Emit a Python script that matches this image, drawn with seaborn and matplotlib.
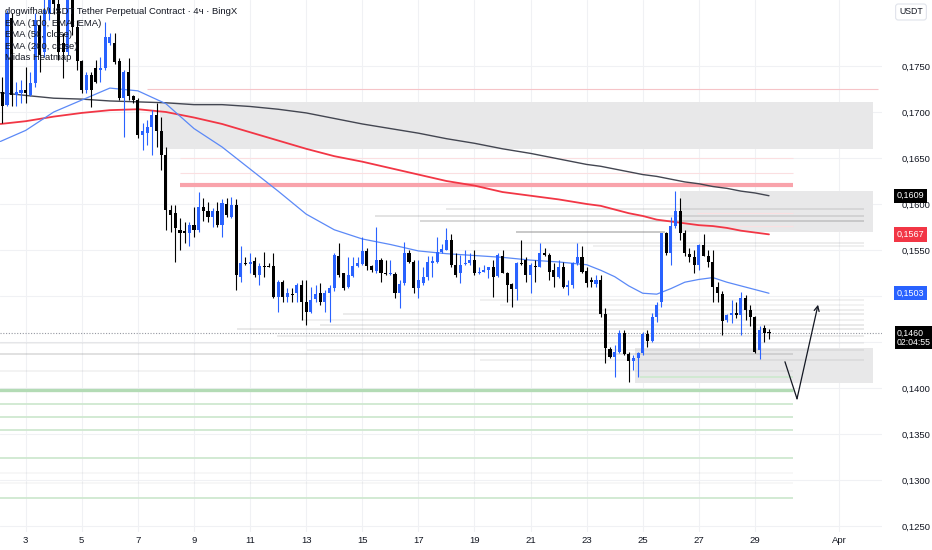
import numpy as np
import pandas as pd
import matplotlib
matplotlib.use("Agg")
import matplotlib.pyplot as plt
import matplotlib.transforms as mtransforms
import seaborn as sns

# ---------------- data (prices in 1e-4 USDT) ----------------
candle_start = "2025-03-02 04:00"
open_e4 = [1722, 1708, 1802, 1719, 1721, 1724, 1719, 1732, 1795, 1765,
           1806, 1833, 1817, 1775, 1765, 1827, 1792, 1755, 1724, 1740,
           1748, 1746, 1748, 1775, 1775, 1755, 1715, 1743, 1717, 1713,
           1675, 1677, 1684, 1697, 1679, 1653, 1594, 1590, 1572, 1571,
           1569, 1577, 1572, 1597, 1592, 1586, 1592, 1577, 1600, 1586,
           1599, 1521, 1536, 1535, 1538, 1523, 1533, 1533, 1533, 1499,
           1515, 1499, 1502, 1503, 1512, 1493, 1483, 1497, 1503, 1494,
           1503, 1509, 1543, 1525, 1510, 1522, 1533, 1535, 1549, 1533,
           1527, 1539, 1525, 1524, 1524, 1503, 1514, 1547, 1537, 1509,
           1514, 1521, 1536, 1537, 1548, 1550, 1561, 1534, 1525, 1535,
           1536, 1539, 1525, 1526, 1528, 1531, 1522, 1543, 1525, 1513,
           1508, 1536, 1539, 1523, 1533, 1532, 1547, 1545, 1528, 1521,
           1532, 1510, 1512, 1536, 1542, 1527, 1517, 1513, 1517, 1480,
           1442, 1434, 1439, 1460, 1437, 1429, 1433, 1438, 1459, 1451,
           1477, 1493, 1568, 1547, 1576, 1592, 1568, 1546, 1542, 1534,
           1555, 1544, 1537, 1510, 1502, 1474, 1479, 1482, 1479, 1498,
           1485, 1477, 1441, 1465, 1461]
high_e4 = [1738, 1811, 1808, 1733, 1735, 1749, 1743, 1808, 1805, 1827,
           1844, 1849, 1838, 1786, 1844, 1838, 1800, 1757, 1743, 1744,
           1757, 1760, 1798, 1786, 1786, 1759, 1746, 1759, 1719, 1715,
           1688, 1691, 1702, 1710, 1695, 1662, 1599, 1599, 1585, 1580,
           1580, 1597, 1613, 1607, 1602, 1596, 1602, 1605, 1607, 1608,
           1605, 1554, 1542, 1547, 1542, 1536, 1548, 1536, 1547, 1517,
           1517, 1509, 1509, 1514, 1517, 1517, 1510, 1512, 1514, 1507,
           1512, 1547, 1558, 1525, 1542, 1542, 1542, 1564, 1552, 1534,
           1575, 1541, 1539, 1539, 1526, 1517, 1559, 1550, 1539, 1539,
           1532, 1543, 1543, 1564, 1556, 1574, 1567, 1547, 1545, 1550,
           1547, 1550, 1532, 1534, 1532, 1539, 1547, 1550, 1526, 1514,
           1537, 1561, 1542, 1536, 1539, 1558, 1552, 1547, 1536, 1539,
           1537, 1517, 1537, 1558, 1554, 1531, 1521, 1523, 1523, 1487,
           1445, 1447, 1463, 1463, 1439, 1436, 1439, 1461, 1463, 1481,
           1494, 1569, 1570, 1586, 1614, 1607, 1572, 1552, 1550, 1556,
           1567, 1550, 1550, 1515, 1505, 1480, 1496, 1493, 1504, 1501,
           1490, 1478, 1467, 1468, 1464]
low_e4 = [1688, 1706, 1706, 1706, 1710, 1710, 1717, 1727, 1743, 1760,
          1800, 1806, 1756, 1737, 1762, 1784, 1746, 1721, 1721, 1705,
          1732, 1733, 1746, 1773, 1752, 1713, 1673, 1713, 1710, 1672,
          1659, 1664, 1653, 1662, 1637, 1572, 1570, 1537, 1550, 1558,
          1554, 1564, 1570, 1581, 1580, 1575, 1575, 1564, 1586, 1585,
          1507, 1515, 1534, 1525, 1521, 1512, 1521, 1531, 1498, 1483,
          1493, 1494, 1493, 1494, 1474, 1469, 1482, 1493, 1490, 1483,
          1472, 1505, 1521, 1507, 1509, 1521, 1532, 1534, 1528, 1526,
          1525, 1515, 1523, 1523, 1498, 1487, 1512, 1536, 1503, 1498,
          1512, 1517, 1521, 1536, 1547, 1550, 1532, 1521, 1514, 1534,
          1534, 1523, 1524, 1526, 1520, 1499, 1521, 1525, 1493, 1488,
          1496, 1534, 1515, 1503, 1515, 1531, 1543, 1517, 1510, 1520,
          1509, 1501, 1509, 1534, 1525, 1510, 1510, 1510, 1477, 1427,
          1433, 1412, 1438, 1436, 1406, 1420, 1412, 1436, 1445, 1450,
          1472, 1488, 1545, 1534, 1574, 1561, 1543, 1537, 1525, 1528,
          1543, 1532, 1494, 1493, 1458, 1472, 1471, 1476, 1458, 1474,
          1467, 1438, 1431, 1450, 1453]
close_e4 = [1706, 1808, 1719, 1722, 1724, 1721, 1732, 1800, 1762, 1811,
            1833, 1817, 1765, 1765, 1827, 1792, 1755, 1724, 1740, 1724,
            1733, 1748, 1782, 1782, 1754, 1715, 1743, 1717, 1713, 1675,
            1679, 1684, 1697, 1679, 1653, 1594, 1588, 1574, 1569, 1569,
            1577, 1572, 1597, 1592, 1586, 1592, 1577, 1601, 1588, 1599,
            1523, 1536, 1535, 1537, 1523, 1533, 1532, 1532, 1499, 1515,
            1499, 1503, 1501, 1512, 1493, 1483, 1496, 1502, 1494, 1503,
            1509, 1545, 1523, 1509, 1523, 1533, 1536, 1549, 1533, 1528,
            1539, 1525, 1524, 1525, 1503, 1513, 1547, 1537, 1509, 1517,
            1521, 1537, 1538, 1548, 1551, 1561, 1534, 1523, 1534, 1536,
            1539, 1525, 1526, 1528, 1531, 1521, 1545, 1525, 1512, 1508,
            1536, 1535, 1523, 1534, 1532, 1547, 1545, 1526, 1521, 1532,
            1510, 1512, 1536, 1542, 1526, 1514, 1515, 1517, 1480, 1444,
            1434, 1439, 1460, 1437, 1429, 1433, 1438, 1459, 1451, 1477,
            1490, 1568, 1547, 1576, 1592, 1569, 1547, 1542, 1534, 1555,
            1544, 1537, 1510, 1503, 1473, 1479, 1482, 1479, 1498, 1485,
            1477, 1439, 1463, 1460, 1460]

# EMA lines (day of March -> price e4)
ema_days = [2.1, 3, 4, 5, 6, 7, 8, 9, 10, 11, 12, 13, 14, 15, 16, 17, 18, 19, 20,
            21, 22, 23, 23.5, 24, 24.5, 25, 25.5, 26, 26.5, 27, 27.5, 28, 28.5, 29, 29.5]
ema50_e4 = [1668, 1680, 1700, 1713, 1726, 1723, 1709, 1682, 1662, 1638, 1614, 1589,
            1572, 1562, 1556, 1549, 1546, 1544, 1542, 1539, 1537, 1534,
            1528, 1521, 1511, 1503, 1502, 1508, 1515, 1518, 1520, 1515, 1511, 1507, 1503]
ema200_e4 = [1687, 1690, 1695, 1699, 1702, 1703, 1700, 1694, 1687, 1678, 1669, 1660,
             1652, 1646, 1639, 1632, 1625, 1620, 1613, 1609, 1605, 1600,
             1598, 1594, 1590, 1587, 1583, 1581, 1579, 1577, 1576, 1574, 1571, 1569, 1567]
ema100_e4 = [1721, 1718, 1715, 1714, 1712, 1711, 1710, 1708, 1708, 1706, 1703, 1699,
             1693, 1687, 1682, 1677, 1671, 1666, 1660, 1655, 1649, 1643,
             1641, 1638, 1635, 1632, 1630, 1627, 1624, 1622, 1619, 1617, 1614, 1612, 1609]

# supply / demand zones
zone_top = [0.1711, 0.1614, 0.1444]
zone_bottom = [0.1660, 0.1570, 0.1405]
zone_from = [7.79, 26.33, 24.72]
zone_to = [33.21, 33.21, 33.21]

# Midas heatmap levels
heat_price = [0.1595, 0.1587, 0.1581, 0.1570, 0.1558, 0.1554, 0.1496, 0.1490, 0.1485,
              0.1480, 0.1474, 0.1469, 0.1464, 0.1457, 0.1449, 0.1441, 0.1437, 0.1430,
              0.1419, 0.1308, 0.1297]
heat_from = [18.0, 15.45, 17.06, 20.49, 18.84, 23.23, 19.2, 19.9, 22.05,
             14.32, 12.8, 13.5, 10.54, 11.96, 2.0, 13.04, 2.0, 19.2,
             2.0, 2.0, 2.0]
heat_to = [32.9, 32.9, 32.9, 25.79, 32.9, 32.9, 32.9, 32.9, 32.9,
           32.9, 32.9, 32.9, 32.9, 32.9, 32.9, 32.9, 30.36, 32.9,
           30.36, 30.36, 30.36]
heat_weight = [0.22, 0.28, 0.40, 0.55, 0.18, 0.15, 0.15, 0.12, 0.18,
               0.20, 0.15, 0.22, 0.22, 0.20, 0.12, 0.15, 0.30, 0.15,
               0.12, 0.08, 0.08]

support_levels = [0.1398, 0.1412, 0.1383, 0.1369, 0.1354, 0.1324, 0.1280]
support_from = [2.0, 24.9, 2.0, 2.0, 2.0, 2.0, 2.0]
resist_levels = [0.1621, 0.1725, 0.1650, 0.1634, 0.1590, 0.1576]
resist_from = [8.51, 7.33, 8.51, 8.51, 26.93, 26.93]
resist_to = [30.36, 33.4, 30.36, 30.36, 30.36, 30.36]

day_ticks = [3, 5, 7, 9, 11, 13, 15, 17, 19, 21, 23, 25, 27, 29, 32]
day_labels = ["3", "5", "7", "9", "11", "13", "15", "17", "19", "21", "23", "25", "27", "29", "Apr"]
price_ticks = [0.1250, 0.1300, 0.1350, 0.1400, 0.1450, 0.1500, 0.1550, 0.1600, 0.1650, 0.1700, 0.1750]
hidden_price_ticks = [0.1450, 0.1500]   # covered by the price tags in the original

legend_lines = ["dogwifhat/USDT Tether Perpetual Contract · 4ч · BingX",
                "EMA (100, EMA: EMA)", "EMA (50, close)", "EMA (200, close)", "Midas Heatmap"]
countdown = "02:04:55"

# ---------------- derived frames ----------------
times = pd.date_range(candle_start, periods=len(open_e4), freq="4h")
day = ((times - pd.Timestamp("2025-03-01")) / pd.Timedelta(days=1)).values + 1.0
o = np.array(open_e4) / 1e4
h = np.array(high_e4) / 1e4
l = np.array(low_e4) / 1e4
c = np.array(close_e4) / 1e4
ema_df = pd.DataFrame({"day": ema_days,
                       "ema50": np.array(ema50_e4) / 1e4,
                       "ema200": np.array(ema200_e4) / 1e4,
                       "ema100": np.array(ema100_e4) / 1e4})

# ---------------- style ----------------
sns.set_theme(style="white")
plt.rcParams["font.family"] = ["Liberation Sans", "DejaVu Sans"]
TXT = "#131722"
UP = "#2962ff"
DOWN = "#000000"

W, H = 932, 550
fig = plt.figure(figsize=(W / 100, H / 100), dpi=100)
fig.patch.set_facecolor("white")
ax = fig.add_axes([0, 18 / H, 882 / W, 532 / H])
ax.set_facecolor("white")
for s in ax.spines.values():
    s.set_visible(False)

ax.set_xlim(2.0838, 33.53)
ax.set_ylim(0.1750 - (532 - 66) / 9200, 0.1750 + 66 / 9200)

# grid / ticks
ax.set_xticks(day_ticks)
ax.set_xticklabels(day_labels)
ax.set_yticks(price_ticks)
ax.set_yticklabels(["" if any(abs(v - hv) < 1e-9 for hv in hidden_price_ticks)
                    else f"{v:.4f}".replace(".", ",") for v in price_ticks])
ax.yaxis.tick_right()
ax.tick_params(axis="y", length=0, pad=14, labelsize=6.8, labelcolor=TXT)
ax.tick_params(axis="x", length=0, pad=3, labelsize=6.8, labelcolor=TXT)
ax.grid(True, color="#f0f1f4", linewidth=0.8, zorder=0)
ax.set_axisbelow(True)

# zones
for top, bot, x0, x1 in zip(zone_top, zone_bottom, zone_from, zone_to):
    ax.fill_between([x0, x1], [bot, bot], [top, top], color="#e8e8e9", linewidth=0, zorder=1)

# heatmap lines
for p, x0, x1, wgt in zip(heat_price, heat_from, heat_to, heat_weight):
    ax.hlines(p, x0, x1, colors="#8a8a8a", alpha=wgt, linewidth=1.2, zorder=1.5)

# support (green) lines
for i, (p, x0) in enumerate(zip(support_levels, support_from)):
    if i == 0:
        ax.hlines(p, x0, 30.36, colors="#b3dbb5", linewidth=2.4, zorder=1.6)
    else:
        ax.hlines(p, x0, 30.36, colors="#cfe8d0", linewidth=1.3, zorder=1.6)

# resistance (red) lines
for i, (p, x0, x1) in enumerate(zip(resist_levels, resist_from, resist_to)):
    if i == 0:
        ax.hlines(p, x0, x1, colors="#f9a3ab", linewidth=3.0, zorder=1.7)
    elif i == 1:
        ax.hlines(p, x0, x1, colors="#f6c4c8", linewidth=0.8, zorder=1.7)
    else:
        ax.hlines(p, x0, x1, colors="#fbdfe1", linewidth=0.8, zorder=1.7)

# last price dotted line
ax.axhline(c[-1], color="#9598a1", linewidth=0.8, linestyle=(0, (1, 1.5)), zorder=1.8)

# EMA lines
sns.lineplot(data=ema_df, x="day", y="ema100", ax=ax, color="#434651", linewidth=1.0, zorder=3)
sns.lineplot(data=ema_df, x="day", y="ema200", ax=ax, color="#f23645", linewidth=1.3, zorder=3)
sns.lineplot(data=ema_df, x="day", y="ema50", ax=ax, color="#5b89f7", linewidth=0.9, zorder=3)
ax.set_xlabel("")
ax.set_ylabel("")

# candles
up = c >= o
cols = np.where(up, UP, DOWN)
ax.vlines(day, l, h, colors=cols, linewidth=0.8, zorder=4)
body = np.maximum(np.abs(c - o), 0.00008)
ax.bar(day, body, bottom=np.minimum(o, c), width=0.11, color=cols, linewidth=0, zorder=5)

# projected path arrow
ax.plot([30.07, 30.50], [0.14285, 0.13883], color=TXT, linewidth=0.9, zorder=6)
ax.annotate("", xy=(31.25, 0.14905), xytext=(30.50, 0.13883),
            arrowprops=dict(arrowstyle="->", color=TXT, lw=0.9, mutation_scale=9,
                            shrinkA=0, shrinkB=0), zorder=6)

# price tags on the right scale
btrans = mtransforms.blended_transform_factory(ax.transAxes, ax.transData)
tag_x = 1.0 + 15 / 882
tags = [(ema_df["ema100"].iloc[-1], "#000000"),
        (ema_df["ema200"].iloc[-1], "#f23645"),
        (ema_df["ema50"].iloc[-1], "#2962ff")]
for val, col in tags:
    ax.text(tag_x, val, f"{val:.4f}".replace(".", ","), transform=btrans,
            ha="left", va="center", fontsize=6.5, color="white", clip_on=False, zorder=10,
            bbox=dict(boxstyle="square,pad=0.3", fc=col, ec="none"))
ptrans = mtransforms.offset_copy(btrans, fig=fig, y=-5, units="dots")
ax.text(tag_x, c[-1], f"{c[-1]:.4f}".replace(".", ",") + "\n" + countdown,
        transform=ptrans, ha="left", va="center", fontsize=6.3, color="white",
        linespacing=1.05, clip_on=False, zorder=10,
        bbox=dict(boxstyle="square,pad=0.25", fc="#000000", ec="none"))

# currency box
fig.text(911 / W, 1 - 12 / H, "USDT", ha="center", va="center", fontsize=6.3, color=TXT,
         bbox=dict(boxstyle="round,pad=0.4,rounding_size=0.3", fc="white", ec="#e0e3eb", lw=0.8))

# legend text
for i, line in enumerate(legend_lines):
    fig.text(5 / W, 1 - (12 + i * 11.4) / H, line, ha="left", va="center",
             fontsize=6.8, color=TXT, zorder=10)

fig.savefig("out.png", dpi=100, facecolor="white")
